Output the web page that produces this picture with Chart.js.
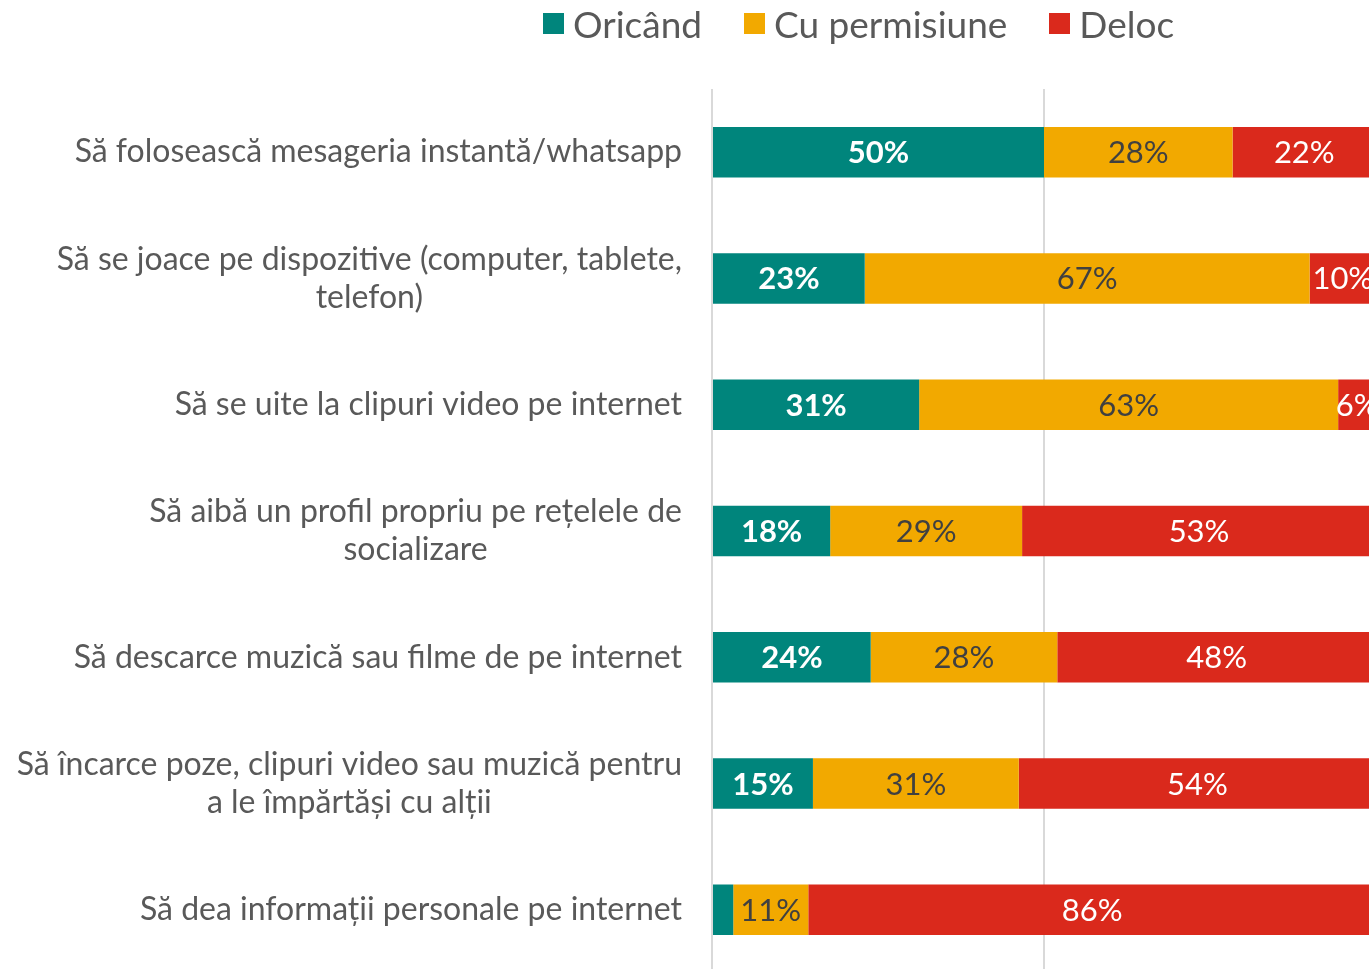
<!DOCTYPE html>
<html>
<head>
<meta charset="utf-8">
<script src="https://cdn.jsdelivr.net/npm/chart.js"></script>
<style>
  html, body { margin: 0; padding: 0; overflow: hidden; background: #fff; }
  #wrap { position: relative; width: 1376px; height: 973px; }
  #legend {
    position: absolute; top: 1px; left: 543px;
    font-family: Lato, sans-serif; font-size: 37px; color: #595959;
    display: flex; align-items: center; white-space: nowrap;
  }
  #legend span.item { display: flex; align-items: center; margin-right: 42px; }
  #legend span.box { width: 21px; height: 21px; margin-right: 9px; display: inline-block; }
</style>
</head>
<body>
<div id="wrap">
  <canvas id="chart"></canvas>
  <div id="legend"></div>
</div>
<script>
// categories (top to bottom)
const categories = [
    'Să folosească mesageria instantă/whatsapp',
    ['Să se joace pe dispozitive (computer, tablete,', 'telefon)'],
    'Să se uite la clipuri video pe internet',
    ['Să aibă un profil propriu pe rețelele de', 'socializare'],
    'Să descarce muzică sau filme de pe internet',
    ['Să încarce poze, clipuri video sau muzică pentru', 'a le împărtăși cu alții'],
    'Să dea informații personale pe internet'
];

// shares (labels show them rounded)
const oricand = [50, 23, 31.2, 17.8, 23.9, 15.2, 3.2];
const cuPermisiune = [28.4, 67, 63.1, 28.9, 28.1, 31, 11.3];
const deloc = [21.6, 10, 5.7, 53.3, 48, 53.8, 85.5];

const seriesNames = ['Oricând', 'Cu permisiune', 'Deloc'];
const seriesColors = ['#00857C', '#F2A900', '#DA291C'];
const labelColors = ['#ffffff', '#404040', '#ffffff'];
const labelWeights = ['bold', 'normal', 'normal'];

// legend as html
const legendEl = document.getElementById('legend');
seriesNames.forEach(function (name, i) {
    const item = document.createElement('span');
    item.className = 'item';
    item.innerHTML = '<span class="box" style="background:' + seriesColors[i] + '"></span>' + name;
    legendEl.appendChild(item);
});

// draws the value in the middle of each segment
const barLabels = {
    id: 'barLabels',
    afterDatasetsDraw(chart) {
        const ctx = chart.ctx;
        ctx.save();
        ctx.textAlign = 'center';
        ctx.textBaseline = 'middle';
        chart.data.datasets.forEach(function (ds, i) {
            const meta = chart.getDatasetMeta(i);
            meta.data.forEach(function (bar, j) {
                const v = ds.data[j];
                if (v < 5) return;
                ctx.font = labelWeights[i] + ' 31px Lato';
                ctx.fillStyle = labelColors[i];
                ctx.fillText(Math.round(v) + '%', (bar.x + bar.base) / 2, bar.y + 1);
            });
        });
        ctx.restore();
    }
};

// category labels: block right aligned, lines centred inside the block
const categoryLabels = {
    id: 'categoryLabels',
    afterDraw(chart) {
        const ctx = chart.ctx;
        const yScale = chart.scales.y;
        const right = chart.chartArea.left - 30;
        const lineH = 38;
        ctx.save();
        ctx.font = '32px Lato';
        ctx.fillStyle = '#595959';
        ctx.textAlign = 'center';
        ctx.textBaseline = 'middle';
        chart.data.labels.forEach(function (lab, j) {
            const lines = Array.isArray(lab) ? lab : [lab];
            const w = Math.max.apply(null, lines.map(function (l) { return ctx.measureText(l).width; }));
            const cy = yScale.getPixelForTick(j);
            const y0 = cy - (lines.length - 1) * lineH / 2;
            lines.forEach(function (l, k) {
                ctx.fillText(l, right - w / 2, y0 + k * lineH);
            });
        });
        ctx.restore();
    }
};

const datasets = [oricand, cuPermisiune, deloc].map(function (values, i) {
    return {
        label: seriesNames[i],
        data: values,
        backgroundColor: seriesColors[i],
        borderWidth: 0,
        barPercentage: 0.4,
        categoryPercentage: 1.0
    };
});

new Chart(document.getElementById('chart'), {
    type: 'bar',
    data: { labels: categories, datasets: datasets },
    plugins: [barLabels, categoryLabels],
    options: {
        indexAxis: 'y',
        responsive: true,
        maintainAspectRatio: false,
        animation: false,
        layout: { padding: { top: 89, right: 0, bottom: 0, left: 0 } },
        plugins: {
            legend: { display: false },
            tooltip: { enabled: false }
        },
        scales: {
            x: {
                stacked: true,
                min: 0,
                max: 100,
                ticks: { display: false, stepSize: 50 },
                grid: { color: '#d9d9d9', lineWidth: 2, drawTicks: false },
                border: { display: false }
            },
            y: {
                stacked: true,
                grid: { display: false, drawTicks: false },
                border: { display: false },
                ticks: { display: false },
                afterFit: function (scale) { scale.width = 712; }
            }
        }
    }
});
</script>
</body>
</html>
